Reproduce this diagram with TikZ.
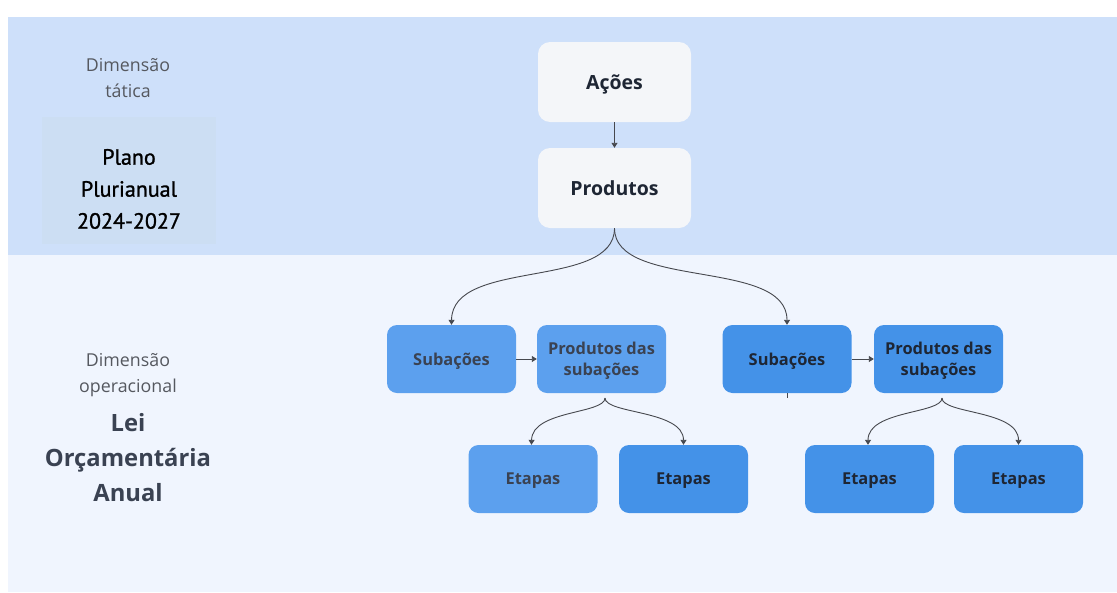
\documentclass[tikz,border=0pt]{standalone}
\usepackage{fontspec}
\setmainfont{Open Sans}
\newfontfamily\planofont[FakeBold=1.2]{PT Sans}
\usetikzlibrary{arrows.meta}
\definecolor{bandtop}{RGB}{206,224,250}
\definecolor{bandbot}{RGB}{240,245,254}
\definecolor{planofill}{RGB}{204,222,243}
\definecolor{topfill}{RGB}{244,246,249}
\definecolor{sublight}{RGB}{92,160,238}
\definecolor{subdark}{RGB}{68,146,232}
\definecolor{txtlight}{RGB}{58,66,82}
\definecolor{txtdark}{RGB}{30,38,52}
\definecolor{graytxt}{RGB}{85,88,95}
\definecolor{arrowcol}{RGB}{70,72,78}
\tikzset{
  topbox/.style={fill=topfill, rounded corners=12pt, minimum width=153pt, minimum height=80pt, font=\fontsize{19.5}{22}\selectfont\bfseries, text=txtdark, inner sep=0pt, text depth=0pt},
  lowbox/.style={rounded corners=10pt, minimum width=129pt, minimum height=68pt, font=\fontsize{16.4}{21}\selectfont\bfseries, align=center, inner sep=0pt, text depth=0pt},
  lightbox/.style={lowbox, fill=sublight, text=txtlight},
  darkbox/.style={lowbox, fill=subdark, text=txtdark},
  conn/.style={draw=arrowcol, line width=0.9pt, -{Triangle[width=6pt,length=5pt]}},
  dimlabel/.style={font=\fontsize{17.8}{26}\selectfont, text=graytxt, align=center},
}
\begin{document}
\begin{tikzpicture}[x=1pt,y=-1pt]
\useasboundingbox (0,0) rectangle (1117,592);
\fill[white] (0,0) rectangle (1117,592);
\fill[bandtop] (8,17) rectangle (1117,255);
\fill[bandbot] (8,255) rectangle (1117,592);
\node[fill=planofill, minimum width=174pt, minimum height=127pt, inner sep=0pt] (plano) at (129,180.5) {};
\node[align=center, font=\planofont\fontsize{22}{32}\selectfont, text=black] (planotxt) at (129,189) {Plano\\Plurianual\\2024-2027};
\node[dimlabel] (dimtat) at (128,78.5) {Dimensão\\tática};
\node[dimlabel] (dimop) at (128,375) {Dimensão\\operacional};
\node[font=\fontsize{23.8}{35}\selectfont\bfseries, text=txtlight, align=center] (loa) at (128,457.5) {Lei\\Orçamentária\\Anual};
\node[topbox] (acoes) at (614.5,82) {Ações};
\node[topbox] (produtos) at (614.5,188) {Produtos};
\node[lightbox] (sub1) at (451.5,359) {Subações};
\node[lightbox] (ps1) at (601.5,359) {Produtos das\\subações};
\node[darkbox] (sub2) at (787,359) {Subações};
\node[darkbox] (ps2) at (938.5,359) {Produtos das\\subações};
\node[lightbox] (et1) at (533,479) {Etapas};
\node[darkbox] (et2) at (683.5,479) {Etapas};
\node[darkbox] (et3) at (869.5,479) {Etapas};
\node[darkbox] (et4) at (1018.5,479) {Etapas};
\coordinate (ps1s) at (605,398);
\coordinate (ps2s) at (942,398);
\draw[conn] (acoes.south) -- (produtos.north);
\draw[conn] (produtos.south) .. controls (614.5,290) and (452,258) .. (sub1.north);
\draw[conn] (produtos.south) .. controls (614.5,290) and (787,258) .. (sub2.north);
\draw[conn] (sub1.east) -- (ps1.west);
\draw[conn] (sub2.east) -- (ps2.west);
\draw[arrowcol, line width=0.8pt] (sub2.south) -- ++(0,5);
\draw[conn] (ps1s) .. controls (605,414) and (532,410) .. ([xshift=-1.5pt]et1.north);
\draw[conn] (ps1s) .. controls (605,414) and (683.5,410) .. (et2.north);
\draw[conn] (ps2s) .. controls (942,414) and (868,410) .. ([xshift=-1.5pt]et3.north);
\draw[conn] (ps2s) .. controls (942,414) and (1018.5,410) .. (et4.north);
\end{tikzpicture}
\end{document}
